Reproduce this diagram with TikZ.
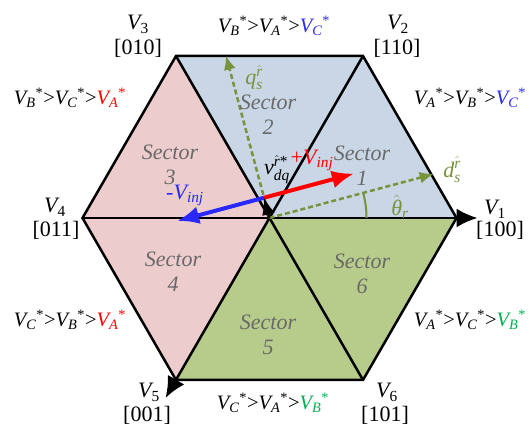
\documentclass[tikz,border=0pt]{standalone}
\usepackage{fontspec}
\setmainfont{Liberation Serif}
\usepackage{amsmath}
\usetikzlibrary{arrows.meta,calc}
\definecolor{secblue}{RGB}{200,214,229}
\definecolor{secpink}{RGB}{236,204,204}
\definecolor{secgreen}{RGB}{183,203,139}
\definecolor{axolive}{RGB}{119,147,60}
\definecolor{vred}{RGB}{255,0,0}
\definecolor{vblue}{RGB}{40,40,255}
\definecolor{vgreen}{RGB}{0,176,80}
\definecolor{secgray}{RGB}{105,105,105}
\newcommand\VV[1]{\textit{V}_{\textit{#1}}{}^{\text{*}}}
\newcommand\GT{\text{>}}
\newcommand\VN[1]{$\textit{V}_{\text{#1}}$}
\begin{document}
\begin{tikzpicture}[x=1pt,y=1pt,
  every node/.style={font=\fontsize{22}{26}\selectfont, inner sep=0pt},
  sectorlbl/.style={align=center, text=secgray, font=\itshape\fontsize{22}{25}\selectfont},
  ineq/.style={font=\fontsize{20.5}{24}\selectfont},
  edge/.style={line width=2.5pt, line join=miter},
  axis/.style={axolive, line width=2.5pt, dash pattern=on 5pt off 3pt, -{Latex[length=14pt,width=12pt]}},
  injarrow/.style={line width=4pt, -{Latex[length=22pt,width=18pt]}},
  vlbl/.style={anchor=base}
]
\useasboundingbox (0,0) rectangle (529,427);
\coordinate (C) at (269.5,209);
\coordinate (V1) at (456.5,209);
\coordinate (V2) at (363,371);
\coordinate (V3) at (176,371);
\coordinate (V4) at (82.5,209);
\coordinate (V5) at (176,47);
\coordinate (V6) at (363,47);
\coordinate (T1) at (477.5,209);
\coordinate (T5) at (165.5,29);
\coordinate (D) at ($(C)+(15:170pt)$);
\coordinate (Q) at ($(C)+(105:168pt)$);
\coordinate (P) at ($(C)+(105:21pt)$);
\coordinate (R) at ($(P)+(15:93pt)$);
\coordinate (B) at ($(P)+(195:90pt)$);
\coordinate (A0) at ($(C)+(0:97pt)$);

% sector fills
\fill[secblue] (C) -- (V1) -- (V2) -- (V3) -- cycle;
\fill[secpink] (C) -- (V3) -- (V4) -- (V5) -- cycle;
\fill[secgreen] (C) -- (V5) -- (V6) -- (V1) -- cycle;

% hexagon and diagonals
\draw[edge] (V1) -- (V2) -- (V3) -- (V4) -- (V5) -- (V6) -- cycle;
\draw[edge] (V3) -- (V6);
\draw[edge, -{Latex[length=21pt,width=19pt]}] (V2) -- (T5);
\draw[edge, -{Latex[length=21pt,width=19pt]}] (V4) -- (T1);

% rotor axes
\draw[axis] (C) -- (D);
\draw[axis] (C) -- (Q);
\draw[axolive, line width=2pt] (A0) arc (0:15:97pt);

% injection vectors
\draw[injarrow, vred] (P) -- (R);
\draw[injarrow, vblue] (P) -- (B);
\draw[line width=2pt, -{Latex[length=17pt,width=13pt]}] (C) -- (P);

% sector labels
\node[sectorlbl] (S1) at (362,261) {Sector\\1};
\node[sectorlbl] (S2) at (268,312) {Sector\\2};
\node[sectorlbl] (S3) at (170,262) {Sector\\3};
\node[sectorlbl] (S4) at (173,155) {Sector\\4};
\node[sectorlbl] (S5) at (268,92) {Sector\\5};
\node[sectorlbl] (S6) at (362,153) {Sector\\6};

% vertex labels
\node[vlbl] (L1) at (495,212) {\VN{1}};
\node[vlbl] (B1) at (500,190) {[100]};
\node[vlbl] (L2) at (398,397) {\VN{2}};
\node[vlbl] (B2) at (397,372) {[110]};
\node[vlbl] (L3) at (138,397) {\VN{3}};
\node[vlbl] (B3) at (138,372) {[010]};
\node[vlbl] (L4) at (55,214) {\VN{4}};
\node[vlbl] (B4) at (56,190) {[011]};
\node[vlbl] (L5) at (149,29) {\VN{5}};
\node[vlbl] (B5) at (147,5) {[001]};
\node[vlbl] (L6) at (387,29) {\VN{6}};
\node[vlbl] (B6) at (385,5) {[101]};

% inequality labels
\node[ineq] (I12) at (274,401) {$\VV{B}\GT\VV{A}\GT\textcolor{vblue}{\VV{C}}$};
\node[ineq] (I01) at (470,329) {$\VV{A}\GT\VV{B}\GT\textcolor{vblue}{\VV{C}}$};
\node[ineq] (I23) at (70,329) {$\VV{B}\GT\VV{C}\GT\textcolor{vred}{\VV{A}}$};
\node[ineq] (I34) at (70,107) {$\VV{C}\GT\VV{B}\GT\textcolor{vred}{\VV{A}}$};
\node[ineq] (I56) at (470,107) {$\VV{A}\GT\VV{C}\GT\textcolor{vgreen}{\VV{B}}$};
\node[ineq] (I45) at (273,24) {$\VV{C}\GT\VV{A}\GT\textcolor{vgreen}{\VV{B}}$};

% axis and vector labels
\node[text=axolive] (QL) at (254,349) {$\textit{q}_{\textit{s}}^{\hat{\textit{r}}}$};
\node[text=axolive] (DL) at (452,257) {$\textit{d}_{\textit{s}}^{\hat{\textit{r}}}$};
\node[text=axolive] (TL) at (400,220) {$\hat{\text{\itshape θ}}_{\textit{r}}$};
\node (VL) at (277,257) {$\textit{v}_{\textit{dq}}^{\hat{\textit{r}}\text{*}}$};
\node[text=vred] (PL) at (312,267) {+$\textit{V}_{\textit{inj}}$};
\node[text=vblue] (ML) at (185,232) {-$\textit{V}_{\textit{inj}}$};
\end{tikzpicture}
\end{document}
